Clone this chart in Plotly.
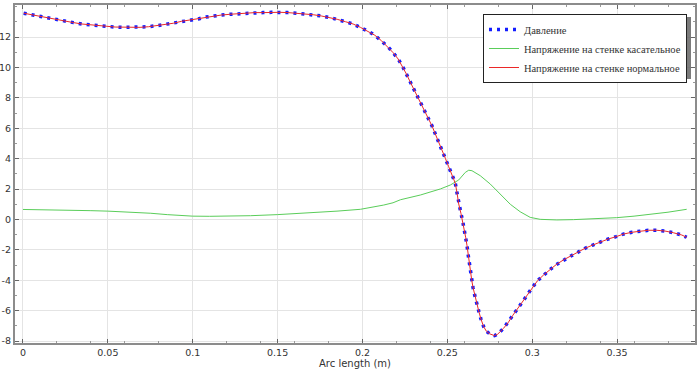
import plotly.graph_objects as go

# ---- data ----
arc_p = [0.0004, 0.0057, 0.0106, 0.0155, 0.0204, 0.0249, 0.0298, 0.0347, 0.0396, 0.0445,
         0.0494, 0.0543, 0.0592, 0.0641, 0.0690, 0.0739, 0.0788, 0.0837, 0.0886, 0.0935,
         0.0984, 0.1033, 0.1067, 0.1116, 0.1169, 0.1220, 0.1269, 0.1318, 0.1367, 0.1416,
         0.1465, 0.1514, 0.1561, 0.1612, 0.1659, 0.1710, 0.1757, 0.1802, 0.1851, 0.1900,
         0.1945, 0.1988, 0.2034, 0.2073, 0.2112, 0.2149, 0.2181, 0.2210, 0.2235, 0.2259,
         0.2278, 0.2302, 0.2324, 0.2345, 0.2366, 0.2388, 0.2410, 0.2429, 0.2449, 0.2469,
         0.2488, 0.2508, 0.2528, 0.2547, 0.2557, 0.2567, 0.2580, 0.2590, 0.2600, 0.2608,
         0.2616, 0.2622, 0.2629, 0.2635, 0.2643, 0.2651, 0.2661, 0.2671, 0.2686, 0.2698,
         0.2714, 0.2730, 0.2749, 0.2778, 0.2796, 0.2831, 0.2861, 0.2886, 0.2916, 0.2945,
         0.2973, 0.3002, 0.3031, 0.3067, 0.3104, 0.3141, 0.3184, 0.3228, 0.3269, 0.3312,
         0.3357, 0.3404, 0.3449, 0.3494, 0.3541, 0.3588, 0.3635, 0.3684, 0.3733, 0.3782,
         0.3831, 0.3881, 0.3910]
pressure = [13.57, 13.45, 13.34, 13.23, 13.13, 13.06, 12.95, 12.86, 12.80, 12.73,
            12.71, 12.66, 12.64, 12.64, 12.64, 12.68, 12.75, 12.84, 12.91, 13.04,
            13.13, 13.19, 13.30, 13.39, 13.45, 13.50, 13.54, 13.57, 13.61, 13.61,
            13.63, 13.63, 13.61, 13.57, 13.52, 13.47, 13.39, 13.30, 13.17, 13.01,
            12.86, 12.64, 12.38, 12.12, 11.76, 11.37, 10.97, 10.56, 10.10, 9.57,
            9.12, 8.59, 8.13, 7.64, 7.16, 6.66, 6.15, 5.63, 5.12, 4.57,
            4.03, 3.47, 2.93, 2.38, 1.75, 1.02, 0.41, -0.08, -0.64, -1.17,
            -1.72, -2.27, -2.82, -3.37, -3.94, -4.46, -4.97, -5.51, -6.07, -6.55,
            -7.05, -7.35, -7.52, -7.64, -7.55, -7.16, -6.74, -6.30, -5.84, -5.34,
            -4.92, -4.46, -4.03, -3.65, -3.30, -2.97, -2.66, -2.40, -2.16, -1.89,
            -1.68, -1.46, -1.28, -1.13, -0.95, -0.84, -0.76, -0.71, -0.71, -0.76,
            -0.87, -1.02, -1.17]
normal_stress = pressure  # normal wall stress coincides with pressure

arc_t = [0.0000, 0.0100, 0.0200, 0.0300, 0.0400, 0.0500, 0.0600, 0.0700, 0.0753, 0.0850,
         0.0910, 0.0949, 0.1000, 0.1100, 0.1200, 0.1341, 0.1498, 0.1600, 0.1733, 0.1850,
         0.1988, 0.2050, 0.2125, 0.2180, 0.2224, 0.2341, 0.2459, 0.2518, 0.2567, 0.2606,
         0.2626, 0.2645, 0.2694, 0.2753, 0.2812, 0.2871, 0.2929, 0.2988, 0.3047, 0.3145,
         0.3243, 0.3400, 0.3498, 0.3600, 0.3694, 0.3800, 0.3910]
tangential = [0.66, 0.65, 0.63, 0.61, 0.58, 0.55, 0.51, 0.45, 0.41, 0.32,
              0.27, 0.23, 0.22, 0.21, 0.22, 0.25, 0.32, 0.38, 0.47, 0.55,
              0.67, 0.78, 0.95, 1.10, 1.30, 1.61, 2.01, 2.27, 2.60, 3.10,
              3.24, 3.21, 2.88, 2.33, 1.68, 1.00, 0.51, 0.14, 0.01, -0.03,
              -0.01, 0.05, 0.12, 0.22, 0.34, 0.48, 0.67]

x_ticks = [0, 0.05, 0.1, 0.15, 0.2, 0.25, 0.3, 0.35]
x_ticklabels = ["0", "0.05", "0.1", "0.15", "0.2", "0.25", "0.3", "0.35"]
y_ticks = [-8, -6, -4, -2, 0, 2, 4, 6, 8, 10, 12]
y_ticklabels = ["-8", "-6", "-4", "-2", "0", "2", "4", "6", "8", "10", "12"]

names = ["Давление", "Напряжение на стенке касательное", "Напряжение на стенке нормальное"]

fig = go.Figure()
fig.add_trace(go.Scatter(x=arc_p, y=pressure, mode="lines", name=names[0],
                         line=dict(color="rgb(20,30,255)", width=3.5, dash="3px,5px")))
fig.add_trace(go.Scatter(x=arc_t, y=tangential, mode="lines", name=names[1],
                         line=dict(color="rgb(90,205,90)", width=1)))
fig.add_trace(go.Scatter(x=arc_p, y=normal_stress, mode="lines", name=names[2],
                         line=dict(color="rgb(235,40,40)", width=1)))

axis_common = dict(
    showline=True, linecolor="#8c8c8c", linewidth=2, mirror="ticks",
    ticks="inside", ticklen=4, tickcolor="#666", tickwidth=1,
    showgrid=True, gridcolor="#e4e4e4", gridwidth=1,
    zeroline=False, automargin=False,
    tickfont=dict(family="DejaVu Sans", size=9.5, color="#333"),
    minor=dict(ticks="inside", ticklen=2, tickcolor="#999", showgrid=False),
)

fig.update_xaxes(**axis_common, range=[-0.0047, 0.3959],
                 tickvals=x_ticks, ticktext=x_ticklabels,
                 title=dict(text="Arc length (m)", standoff=2,
                            font=dict(family="DejaVu Sans", size=10, color="#333")))
fig.update_yaxes(**axis_common, range=[-8.125, 14.11],
                 tickvals=y_ticks, ticktext=y_ticklabels)

# legend shadow (paper coordinates)
fig.add_shape(type="rect", xref="paper", yref="paper",
              x0=(488 - 15) / 680, x1=(691 - 15) / 680,
              y0=(343 - 79) / 338, y1=(343 - 17) / 338,
              fillcolor="rgba(90,90,90,0.8)", line=dict(width=0), layer="above")

fig.update_layout(
    width=700, height=372,
    margin=dict(l=15, r=5, t=5, b=29),
    plot_bgcolor="white", paper_bgcolor="white",
    showlegend=True,
    legend=dict(x=(687 - 15) / 680, y=(343 - 14) / 338, xanchor="right", yanchor="top",
                bgcolor="white", bordercolor="#222", borderwidth=1,
                font=dict(family="Liberation Serif", size=10.5, color="#333"),
                tracegroupgap=2, itemwidth=30),
)

fig.write_html("out.html", config={"displayModeBar": False},
               post_script="document.body.style.margin='0';document.body.style.overflow='hidden';")
